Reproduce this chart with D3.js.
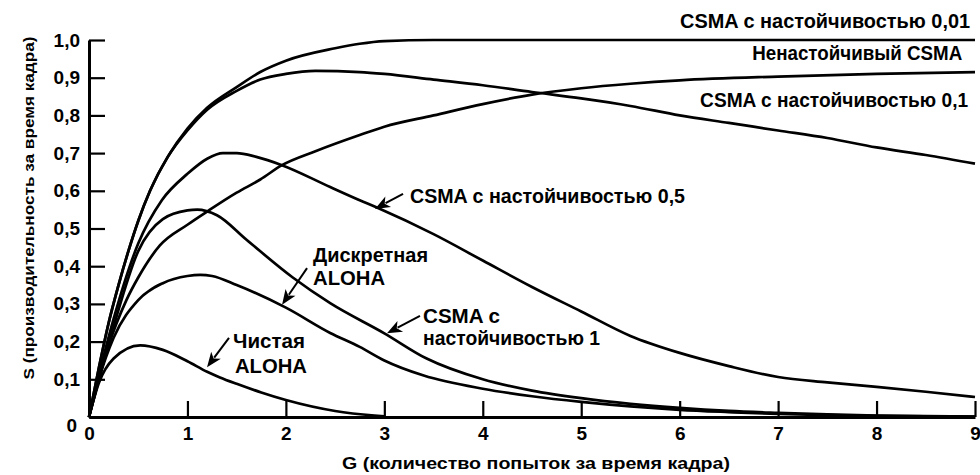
<!DOCTYPE html>
<html>
<head>
<meta charset="utf-8">
<script src="https://cdn.jsdelivr.net/npm/d3@7"></script>
<style>
  html, body { margin: 0; padding: 0; background: #fff; }
  svg { display: block; }
  text { font-family: "Liberation Sans", Arial, Helvetica, sans-serif; font-weight: bold; fill: #000; }
</style>
</head>
<body>
<svg id="chart" width="980" height="475"></svg>
<script>
// Tick values of both axes
const xTicks = [0, 1, 2, 3, 4, 5, 6, 7, 8, 9];
const yTicks = [0, 0.1, 0.2, 0.3, 0.4, 0.5, 0.6, 0.7, 0.8, 0.9, 1.0];

// Throughput S against offered load G, one [G, S] list per protocol
const csma001 = [[0,0],[0.1,0.13],[0.2,0.25],[0.3,0.35],[0.4,0.44],[0.5,0.52],[0.62,0.6],[0.8,0.69],[1,0.765],[1.2,0.82],[1.5,0.875],[1.74,0.915],[2,0.945],[2.5,0.978],[2.75,0.99],[3,0.997],[3.5,1],[4,1],[5,1],[6,1],[7,1],[8,1],[9,1]];
const csmaPeak = [[0,0],[0.1,0.13],[0.2,0.25],[0.3,0.35],[0.4,0.44],[0.5,0.52],[0.62,0.6],[0.8,0.69],[1,0.76],[1.2,0.815],[1.5,0.865],[1.74,0.895],[2,0.91],[2.3,0.918],[2.75,0.915],[3,0.91],[3.5,0.895],[4,0.88],[4.5,0.862],[5,0.845],[5.5,0.825],[6,0.8],[6.5,0.78],[7,0.76],[7.5,0.74],[8,0.715],[8.5,0.695],[9,0.672]];
const csmaSlow = [[0,0],[0.1,0.1],[0.2,0.19],[0.38,0.31],[0.5,0.37],[0.72,0.455],[1,0.51],[1.2,0.545],[1.5,0.595],[1.74,0.63],[1.96,0.668],[2.3,0.705],[2.75,0.748],[3,0.77],[3.5,0.8],[4,0.83],[4.5,0.855],[5,0.872],[5.5,0.884],[6,0.893],[7,0.903],[8,0.91],[9,0.915]];
const csma05 = [[0,0],[0.1,0.11],[0.25,0.26],[0.5,0.46],[0.74,0.575],[1,0.645],[1.2,0.685],[1.36,0.7],[1.5,0.7],[1.7,0.69],[1.96,0.668],[2.45,0.61],[2.75,0.575],[2.93,0.555],[3.5,0.485],[4,0.415],[4.5,0.345],[5,0.28],[5.5,0.215],[6,0.17],[6.5,0.135],[7,0.106],[7.5,0.092],[8,0.08],[8.5,0.067],[9,0.053]];
const csma1 = [[0,0],[0.1,0.1],[0.25,0.24],[0.5,0.44],[0.75,0.525],[1,0.548],[1.1,0.55],[1.3,0.535],[1.6,0.47],[2.07,0.37],[2.45,0.302],[3,0.222],[3.43,0.155],[4,0.1],[4.5,0.07],[5,0.05],[5.5,0.035],[6,0.024],[6.5,0.016],[7,0.011],[7.5,0.007],[8,0.004],[9,0.001]];
const slottedAloha = [[0,0],[0.1,0.1],[0.25,0.21],[0.5,0.31],[0.75,0.355],[1,0.374],[1.13,0.377],[1.25,0.374],[1.5,0.35],[2,0.29],[2.45,0.223],[2.75,0.186],[3,0.15],[3.4,0.11],[4,0.075],[4.5,0.055],[5,0.04],[5.5,0.028],[6,0.019],[6.5,0.013],[7,0.008],[7.5,0.005],[8,0.003],[8.5,0.002],[9,0.001]];
const pureAloha = [[0,0],[0.1,0.09],[0.25,0.155],[0.52,0.19],[0.75,0.178],[1,0.148],[1.2,0.12],[1.33,0.105],[1.5,0.088],[1.75,0.065],[2,0.045],[2.5,0.016],[2.9,0.004],[3,0.002]];

const seriesList = [csma001, csmaPeak, csmaSlow, csma05, csma1, slottedAloha, pureAloha];

const svg = d3.select("#chart");
const x = d3.scaleLinear().domain([0, 9]).range([89, 975]);
const y = d3.scaleLinear().domain([0, 1]).range([417, 40]);

const fmt = d => d === 0 ? "0" : d3.format(".1f")(d).replace(".", ",");

// Axes with inward ticks
const gx = svg.append("g").attr("transform", `translate(0,${y(0)})`)
  .call(d3.axisBottom(x).tickValues(xTicks).tickSize(-16).tickSizeOuter(0).tickPadding(10).tickFormat(d3.format("d")));
const gy = svg.append("g").attr("transform", `translate(${x(0)},0)`)
  .call(d3.axisLeft(y).tickValues(yTicks).tickSize(-16).tickSizeOuter(0).tickPadding(9).tickFormat(fmt));

[gx, gy].forEach(g => {
  g.attr("font-family", null).attr("font-size", null);
  g.selectAll("path.domain").attr("stroke", "#000").attr("stroke-width", 3);
  g.selectAll(".tick line").attr("stroke", "#000").attr("stroke-width", 2.2);
  g.selectAll(".tick text").style("font-size", "19px");
});
// the zero of the S axis sits a little lower and to the left
gy.selectAll(".tick").filter(d => d === 0).select("text").attr("x", -12).attr("dy", "0.75em");

// Curves
const line = d3.line().x(d => x(d[0])).y(d => y(d[1])).curve(d3.curveMonotoneX);
svg.append("g").selectAll("path").data(seriesList).join("path")
  .attr("d", line)
  .attr("fill", "none")
  .attr("stroke", "#000")
  .attr("stroke-width", 2.7)
  .attr("stroke-linejoin", "round");

// Curve labels
const labels = svg.append("g").style("font-size", "20px");
function label(txt, gx0, sy0, anchor, len) {
  const t = labels.append("text").attr("x", x(gx0)).attr("y", y(sy0)).attr("text-anchor", anchor).text(txt);
  if (len) t.attr("textLength", len).attr("lengthAdjust", "spacingAndGlyphs");
  return t;
}
label("CSMA с настойчивостью  0,01", 8.95, 1.032, "end", 290);
label("Ненастойчивый CSMA", 8.87, 0.947, "end", 210);
label("CSMA с настойчивостью 0,1", 8.93, 0.822, "end", 268);
label("CSMA с настойчивостью 0,5", 3.261, 0.568, "start", 275);
label("Дискретная", 2.276, 0.411, "start", 115);
label("ALOHA", 2.276, 0.350, "start", 72);
label("CSMA с", 3.393, 0.249, "start", 77);
label("настойчивостью 1", 3.393, 0.191, "start", 177);
label("Чистая", 1.463, 0.183, "start", 72);
label("ALOHA", 1.483, 0.117, "start", 72);

// Pointer arrows from labels to curves
function arrow(g0, s0, g1, s1) {
  const x0 = x(g0), y0 = y(s0), x1 = x(g1), y1 = y(s1);
  const dx = x1 - x0, dy = y1 - y0, L = Math.hypot(dx, dy);
  const ux = dx / L, uy = dy / L, px = -uy, py = ux;
  const hl = 15, hw = 6;
  const bx = x1 - ux * hl, by = y1 - uy * hl;
  svg.append("line").attr("x1", x0).attr("y1", y0).attr("x2", bx + ux * 3).attr("y2", by + uy * 3)
    .attr("stroke", "#000").attr("stroke-width", 2);
  svg.append("path")
    .attr("d", `M${x1},${y1}L${bx + px * hw},${by + py * hw}L${bx + ux * 4},${by + uy * 4}L${bx - px * hw},${by - py * hw}Z`)
    .attr("fill", "#000");
}
arrow(1.422, 0.21, 1.199, 0.132);
arrow(2.215, 0.395, 1.961, 0.298);
arrow(3.19, 0.592, 2.905, 0.552);
arrow(3.362, 0.268, 3.027, 0.222);

// Axis titles
svg.append("text")
  .attr("transform", "translate(34,208) rotate(-90)")
  .attr("text-anchor", "middle")
  .style("font-size", "15px")
  .attr("textLength", 343).attr("lengthAdjust", "spacingAndGlyphs")
  .text("S (производительность за время кадра)");
svg.append("text")
  .attr("x", 536).attr("y", 469)
  .attr("text-anchor", "middle")
  .style("font-size", "16px")
  .attr("textLength", 388).attr("lengthAdjust", "spacingAndGlyphs")
  .text("G (количество попыток за время кадра)");
</script>
</body>
</html>
